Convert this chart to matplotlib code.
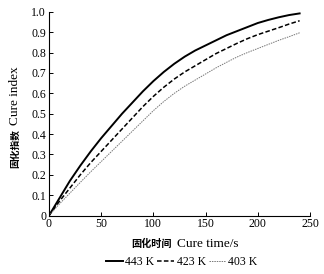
import matplotlib
matplotlib.use("Agg")
import matplotlib.pyplot as plt

t = [0, 10, 20, 30, 40, 50, 60, 70, 80, 90, 100, 110, 120,
     130, 140, 150, 160, 170, 180, 190, 200, 210, 220, 230, 240]
k443 = [0, 0.085, 0.17, 0.245, 0.315, 0.38, 0.44, 0.50, 0.555, 0.61, 0.66, 0.705, 0.745,
        0.78, 0.81, 0.835, 0.86, 0.885, 0.905, 0.925, 0.945, 0.96, 0.973, 0.984, 0.992]
k423 = [0, 0.07, 0.135, 0.2, 0.26, 0.315, 0.37, 0.425, 0.48, 0.535, 0.585, 0.63, 0.67,
        0.705, 0.735, 0.765, 0.795, 0.82, 0.845, 0.868, 0.888, 0.905, 0.922, 0.94, 0.956]
k403 = [0, 0.057, 0.11, 0.163, 0.215, 0.265, 0.315, 0.365, 0.415, 0.465, 0.515, 0.56, 0.6,
        0.635, 0.665, 0.695, 0.725, 0.752, 0.778, 0.8, 0.82, 0.84, 0.86, 0.878, 0.897]
xticks = [0, 50, 100, 150, 200, 250]
yticks = [0, 0.1, 0.2, 0.3, 0.4, 0.5, 0.6, 0.7, 0.8, 0.9, 1.0]
yticklabels = ["0", "0.1", "0.2", "0.3", "0.4", "0.5", "0.6", "0.7", "0.8", "0.9", "1.0"]

serif = ["Liberation Serif", "Noto Sans CJK SC"]

fig = plt.figure(figsize=(3.24, 2.74), dpi=100)
ax = fig.add_axes([0.151, 0.213, 0.806, 0.744])
ax.plot(t, k443, color="black", lw=1.4, ls="-", label="443 K")
ax.plot(t, k423, color="black", lw=1.1, ls=(0, (3, 1.5)), label="423 K")
ax.plot(t, k403, color="#777777", lw=0.7, ls=(0, (1.5, 1)), label="403 K")

ax.set_xlim(0, 250)
ax.set_ylim(0, 1.0)
ax.set_xticks(xticks)
ax.set_yticks(yticks)
ax.set_yticklabels(yticklabels)
for s in ["top", "right"]:
    ax.spines[s].set_visible(False)
for s in ["left", "bottom"]:
    ax.spines[s].set_linewidth(0.8)
ax.tick_params(direction="in", length=3, width=0.7, labelsize=8.5, pad=2)
for lab in ax.get_xticklabels() + ax.get_yticklabels():
    lab.set_family(serif)

fig.text(0.53, 0.11, "固化时间", fontsize=7.3, fontweight="bold", family="Noto Sans CJK SC", ha="right", va="center")
fig.text(0.545, 0.11, "Cure time/s", fontsize=9.5, family="Liberation Serif", ha="left", va="center")
fig.text(0.046, 0.53, "固化指数", fontsize=7.0, fontweight="bold", family="Noto Sans CJK SC", rotation=90, ha="center", va="top")
fig.text(0.046, 0.545, "Cure index", fontsize=9.5, family="Liberation Serif", rotation=90, ha="center", va="bottom")

leg = fig.legend(loc="center", bbox_to_anchor=(0.56, 0.045), ncol=3, frameon=False,
                 handlelength=1.45, handletextpad=0.2, columnspacing=0.25,
                 prop={"family": "Liberation Serif", "size": 8.5})

fig.savefig("out.png", dpi=100)
